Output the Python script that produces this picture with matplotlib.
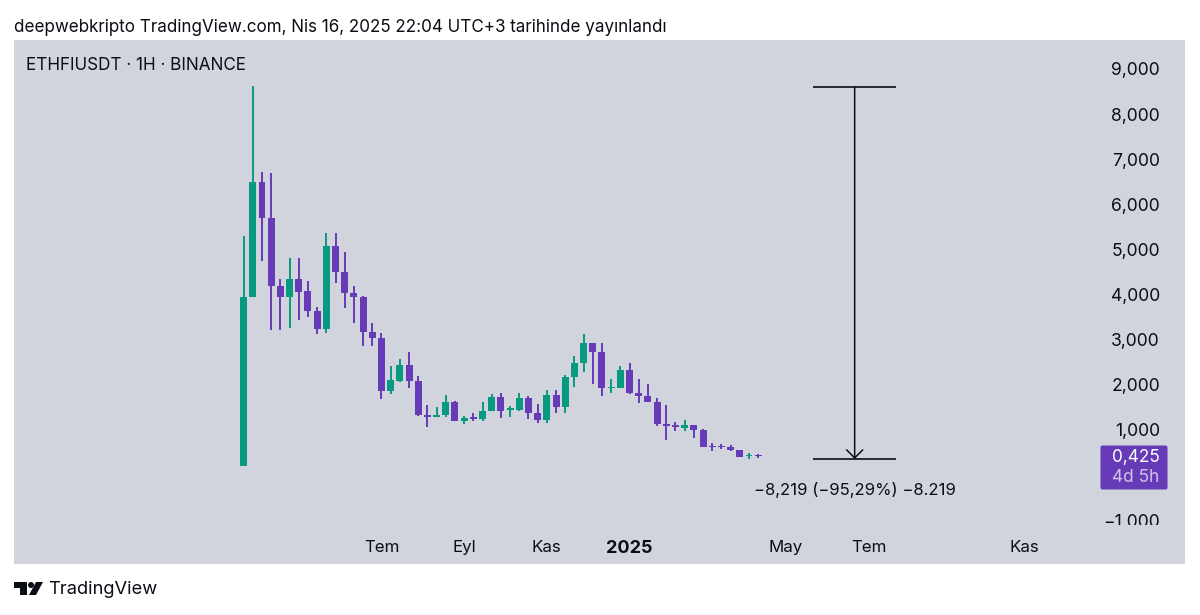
import matplotlib
matplotlib.use('Agg')
import matplotlib.pyplot as plt
from matplotlib.patches import Polygon, Circle, FancyBboxPatch
from matplotlib.transforms import Bbox
import numpy as np

plt.rcParams['font.family'] = ['Inter', 'DejaVu Sans']

# weekly candles, prices
opens = [0.20, 3.94, 6.50, 5.70, 4.20, 3.95, 4.34, 4.07, 3.64, 3.23, 5.08, 4.51, 4.04, 3.95,
         3.18, 3.04, 1.86, 2.09, 2.44, 2.09, 1.33, 1.29, 1.33, 1.63, 1.20, 1.28, 1.25, 1.42,
         1.73, 1.44, 1.44, 1.71, 1.38, 1.22, 1.78, 1.51, 2.17, 2.49, 2.92, 2.73, 1.92, 1.93,
         2.34, 1.82, 1.75, 1.63, 1.14, 1.08, 1.05, 1.11, 1.01, 0.64, 0.64, 0.62, 0.55, 0.42, 0.44]
closes = [3.94, 6.50, 5.70, 4.20, 3.95, 4.34, 4.06, 3.64, 3.23, 5.08, 4.51, 4.04, 3.95, 3.18,
          3.04, 1.86, 2.10, 2.44, 2.09, 1.33, 1.28, 1.34, 1.63, 1.19, 1.26, 1.25, 1.43, 1.73,
          1.42, 1.48, 1.71, 1.38, 1.22, 1.78, 1.51, 2.17, 2.49, 2.92, 2.73, 1.92, 1.95, 2.34,
          1.82, 1.75, 1.63, 1.14, 1.08, 1.07, 1.10, 1.01, 0.63, 0.62, 0.62, 0.55, 0.40, 0.44, 0.425]
highs = [5.30, 8.63, 6.71, 6.69, 4.35, 4.80, 4.82, 4.30, 3.72, 5.36, 5.37, 4.95, 4.18, 3.98,
         3.38, 3.16, 2.42, 2.57, 2.73, 2.20, 1.55, 1.51, 1.77, 1.64, 1.31, 1.38, 1.61, 1.80,
         1.83, 1.53, 1.83, 1.75, 1.58, 1.89, 1.88, 2.21, 2.65, 3.13, 2.93, 2.92, 2.14, 2.42,
         2.48, 2.12, 2.01, 1.70, 1.56, 1.18, 1.22, 1.11, 1.02, 0.71, 0.68, 0.67, 0.56, 0.50, 0.47]
lows = [0.20, 3.94, 4.74, 3.22, 3.22, 3.27, 3.44, 3.50, 3.13, 3.16, 4.26, 3.70, 3.38, 2.85,
        2.87, 1.68, 1.80, 2.07, 1.93, 1.32, 1.07, 1.29, 1.28, 1.19, 1.13, 1.21, 1.21, 1.42,
        1.27, 1.29, 1.42, 1.25, 1.16, 1.16, 1.38, 1.38, 1.96, 2.28, 2.01, 1.75, 1.82, 1.93,
        1.79, 1.60, 1.63, 1.09, 0.78, 0.98, 0.98, 0.83, 0.63, 0.54, 0.58, 0.54, 0.40, 0.36, 0.385]

price_ticks = [-1, 1, 2, 3, 4, 5, 6, 7, 8, 9]
price_labels = ['−1,000', '1,000', '2,000', '3,000', '4,000', '5,000', '6,000', '7,000', '8,000', '9,000']
time_ticks = [15, 24, 33, 42, 59, 68, 85]
time_labels = ['Tem', 'Eyl', 'Kas', '2025', 'May', 'Tem', 'Kas']

measure_top = 8.60
measure_bottom = 0.357
measure_left = 62
measure_right = 71
measure_mid = 66.5
last_price = 0.425

GREEN = '#089981'
PURPLE = '#673AB7'
PANEL = '#D1D4DC'
BLACK = '#0C0E15'

W, H = 1200, 615
fig = plt.figure(figsize=(12, 6.15), dpi=100, facecolor='white')

# chrome layer in pixel coordinates
bg = fig.add_axes([0, 0, 1, 1], zorder=3)
bg.set_xlim(0, W)
bg.set_ylim(H, 0)
bg.axis('off')
bg.patch.set_alpha(0)

ax = fig.add_axes([14 / W, 1 - 564 / H, 1171 / W, 524 / H], zorder=1)
ax.set_facecolor(PANEL)
for s in ax.spines.values():
    s.set_visible(False)
ax.set_xlim(-24.99, 102.45)
ax.set_ylim(-1.97, 9.642)

x = np.arange(len(opens))
colors = [GREEN if c >= o else PURPLE for o, c in zip(opens, closes)]
ax.vlines(x, lows, highs, colors=colors, linewidth=1.4, zorder=2)
bottoms = [min(o, c) for o, c in zip(opens, closes)]
heights = [max(abs(c - o), 0.03) for o, c in zip(opens, closes)]
ax.bar(x, heights, bottom=bottoms, width=0.76, color=colors, linewidth=0, zorder=3)

ax.yaxis.tick_right()
ax.set_yticks(price_ticks)
ax.set_yticklabels(price_labels, ha='right', fontsize=12.6, color=BLACK)
ax.tick_params(axis='y', length=0, pad=-18)
ax.set_xticks(time_ticks)
ax.set_xticklabels(time_labels, fontsize=12.2, color=BLACK)
ax.tick_params(axis='x', length=0, pad=-17)
ax.get_xticklabels()[3].set_fontweight('bold')
ax.get_xticklabels()[3].set_fontsize(13)

# the time axis strip cuts the lowest price label off
clip = Bbox([[1000, H - 525], [1200, H - 40]])
for lab in ax.get_yticklabels():
    lab.set_clip_on(True)
    lab.set_clip_box(clip)

# measure tool
ax.hlines([measure_top, measure_bottom], measure_left, measure_right, colors=BLACK, linewidth=1.2, zorder=4)
ax.annotate('', xy=(measure_mid, measure_bottom), xytext=(measure_mid, measure_top),
            arrowprops=dict(arrowstyle='->,head_length=0.58,head_width=0.58', color=BLACK,
                            linewidth=1.1, shrinkA=0, shrinkB=0), zorder=4)
ax.text(measure_mid, -0.33, '−8,219 (−95,29%) −8.219', ha='center', va='center',
        fontsize=12, color=BLACK)

# last price tag
tag = FancyBboxPatch((1100.5, 445.5), 67, 44, boxstyle='round,pad=0,rounding_size=2',
                     facecolor=PURPLE, edgecolor='none')
bg.add_patch(tag)
bg.text(1159.5, 457.5, '{:.3f}'.format(last_price).replace('.', ','), ha='right', va='center',
        fontsize=12.4, color='white')
bg.text(1159.5, 478, '4d 5h', ha='right', va='center', fontsize=12.4, color='#D1C4E9')

bg.text(14, 27.5, 'deepwebkripto TradingView.com, Nis 16, 2025 22:04 UTC+3 tarihinde yayınlandı',
        ha='left', va='center', fontsize=12.26, color=BLACK)
bg.text(26, 65.5, 'ETHFIUSDT · 1H · BINANCE', ha='left', va='center', fontsize=12.3, color=BLACK)

# TradingView logo
bg.add_patch(Polygon([(14, 582), (27, 582), (27, 595), (20, 595), (20, 588), (14, 588)],
                     closed=True, facecolor=BLACK, edgecolor='none'))
bg.add_patch(Circle((31, 585), 3, facecolor=BLACK, edgecolor='none'))
bg.add_patch(Polygon([(36, 582), (43, 582), (36, 595), (29, 595)], closed=True,
                     facecolor=BLACK, edgecolor='none'))
bg.text(48, 589, 'TradingView', ha='left', va='center', fontsize=13.2, color=BLACK)

fig.savefig('out.png', dpi=100, facecolor='white')
